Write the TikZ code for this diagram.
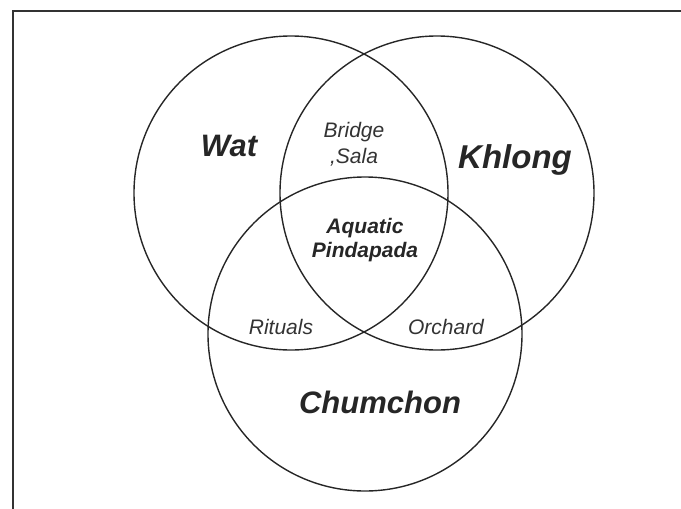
\documentclass[tikz,border=0pt]{standalone}
\usepackage{fontspec}
\setmainfont{Liberation Sans}
\begin{document}
\begin{tikzpicture}[x=1pt,y=-1pt,
  ring/.style={draw=black!85, line width=1.4pt},
  big/.style={font=\fontsize{31}{33}\selectfont\bfseries\itshape, text=black!85},
  small/.style={font=\fontsize{21}{26}\selectfont\itshape, text=black!80, align=center},
  mid/.style={font=\fontsize{21}{24}\selectfont\bfseries\itshape, text=black!85, align=center}]
\useasboundingbox (0,0) rectangle (681,509);
\draw[line width=1.8pt, black!80] (13,509) -- (13,11) -- (681,11);
\draw[ring] (291,193) circle [radius=157];
\draw[ring] (437,193) circle [radius=157];
\draw[ring] (365,334) circle [radius=157];
\node[big] (wat) at (229,146) {Wat};
\node[big, font=\fontsize{33}{35}\selectfont\bfseries\itshape] (khlong) at (515,160) {Khlong};
\node[big] (chum) at (380,402) {Chumchon};
\node[small] (bridge) at (354,144) {Bridge\\,Sala};
\node[mid] (aq) at (365,240) {Aquatic\\Pindapada};
\node[small] (rit) at (281,327) {Rituals};
\node[small] (orch) at (446,327) {Orchard};
\end{tikzpicture}
\end{document}
